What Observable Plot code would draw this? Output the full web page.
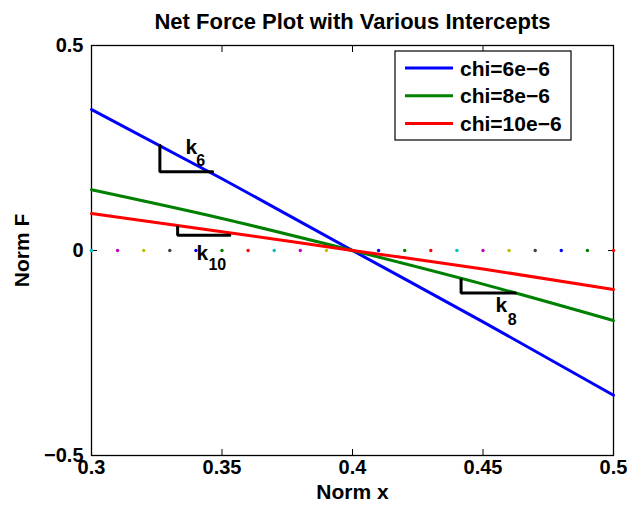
<!DOCTYPE html>
<html><head><meta charset="utf-8">
<script src="https://cdn.jsdelivr.net/npm/d3@7"></script>
<script src="https://cdn.jsdelivr.net/npm/@observablehq/plot@0.6"></script>
<style>body{margin:0;background:#fff}</style>
</head><body><div id="chart"></div>
<script>
// ---- data ----
const titleText = "Net Force Plot with Various Intercepts";
const xLabel = "Norm x";
const yLabel = "Norm F";
const xs = [0.30, 0.35, 0.40, 0.45, 0.50];
const blueY = [0.344, 0.175, 0.0, -0.174, -0.353];
const greenY = [0.148, 0.078, 0.0, -0.082, -0.171];
const redY = [0.090, 0.046, 0.0, -0.045, -0.095];
const seriesNames = ["chi=6e\u22126", "chi=8e\u22126", "chi=10e\u22126"];
const seriesColors = ["#0000ff", "#008000", "#ff0000"];
const dotX = [0.30,0.31,0.32,0.33,0.34,0.35,0.36,0.37,0.38,0.39,0.40,0.41,0.42,0.43,0.44,0.45,0.46,0.47,0.48,0.49,0.50];
const dotY = [0,0,0,0,0,0,0,0,0,0,0,0,0,0,0,0,0,0,0,0,0];
const dotColors = ["#00bfbf","#bf00bf","#bfbf00","#404040","#0000ff","#008000","#ff0000",
                   "#00bfbf","#bf00bf","#bfbf00","#404040","#0000ff","#008000","#ff0000",
                   "#00bfbf","#bf00bf","#bfbf00","#404040","#0000ff","#008000","#ff0000"];
const xTicks = [0.3, 0.35, 0.4, 0.45, 0.5];
const yTicks = [-0.5, 0, 0.5];
// slope triangles (k6, k10, k8)
const triX0 = [0.3262, 0.3330, 0.4416];
const triX1 = [0.3464, 0.3530, 0.4624];
const triYTop = [0.257, 0.0576, -0.0707];
const triYBot = [0.192, 0.0373, -0.1034];
const kX = [0.3383, 0.3425, 0.4570];
const kY = [0.252, -0.006, -0.133];
const subText = ["6", "10", "8"];
const subX = [0.3418, 0.3482, 0.4612];
const subY = [0.218, -0.036, -0.168];

const FONT = "'Liberation Sans', Arial, Helvetica, sans-serif";
const ys = [blueY, greenY, redY];
const fmtX = d => String(+d.toFixed(2));
const fmtY = d => d === 0 ? "0" : (d < 0 ? "\u2212" : "") + String(Math.abs(d));

const triPaths = triX0.map((x0, i) => [
  {x: x0, y: triYTop[i], t: i},
  {x: x0, y: triYBot[i], t: i},
  {x: triX1[i], y: triYBot[i], t: i}
]).flat();

function legend(index, scales, values, dimensions) {
  const {width, marginRight, marginTop} = dimensions;
  const w = 176, h = 89;
  const right = width - marginRight - 42;
  const left = right - w, top = marginTop + 6;
  const g = d3.create("svg:g");
  g.append("rect").attr("x", left).attr("y", top).attr("width", w).attr("height", h)
    .attr("fill", "white").attr("stroke", "black").attr("stroke-width", 1.2);
  seriesNames.forEach((n, i) => {
    const y = top + 17 + i * 27.8;
    g.append("line").attr("x1", left + 10).attr("x2", left + 58).attr("y1", y).attr("y2", y)
      .attr("stroke", seriesColors[i]).attr("stroke-width", 3);
    g.append("text").attr("x", left + 65).attr("y", y).attr("dy", "0.36em")
      .attr("text-anchor", "start")
      .attr("font-size", 21).attr("font-weight", "bold").attr("fill", "black").text(n);
  });
  return g.node();
}

const chart = Plot.plot({
  width: 632,
  height: 512,
  marginLeft: 91,
  marginRight: 19,
  marginTop: 45,
  marginBottom: 57,
  style: {fontFamily: FONT, fontWeight: "bold", fontSize: "20px", background: "white", color: "black"},
  x: {domain: [0.3, 0.5]},
  y: {domain: [-0.5, 0.5]},
  color: {type: "identity"},
  marks: [
    Plot.frame({stroke: "black", strokeWidth: 1.3}),
    Plot.axisX(xTicks, {anchor: "bottom", tickSize: 0, tickPadding: 4, fontSize: 20, tickFormat: fmtX,
      label: null}),
    Plot.axisX(xTicks, {anchor: "bottom", tickSize: -6, tickFormat: () => "", label: null}),
    Plot.axisX(xTicks, {anchor: "top", tickSize: -6, tickFormat: () => "", label: null}),
    Plot.axisY(yTicks, {anchor: "left", tickSize: 0, tickPadding: 8, fontSize: 20,
      tickFormat: fmtY, label: null}),
    Plot.axisY(yTicks, {anchor: "left", tickSize: -6, tickFormat: () => "", label: null}),
    Plot.axisY(yTicks, {anchor: "right", tickSize: -6, tickFormat: () => "", label: null}),
    Plot.dot(dotX, {x: dotX, y: dotY, fill: dotColors, r: 1.7}),
    ...ys.map((yv, i) => Plot.line(xs, {x: xs, y: yv, stroke: seriesColors[i], strokeWidth: 3, curve: "monotone-x"})),
    Plot.line(triPaths, {x: "x", y: "y", z: "t", stroke: "black", strokeWidth: 3, strokeLinejoin: "miter"}),
    Plot.text(kX, {x: kX, y: kY, text: () => "k", fontSize: 21, fontWeight: "bold", fill: "black"}),
    Plot.text(subX, {x: subX, y: subY, text: subText, fontSize: 16, fontWeight: "bold", fill: "black"}),
    Plot.text([titleText], {frameAnchor: "top", dy: -32, fontSize: 22, fontWeight: "bold", fill: "black"}),
    Plot.text([xLabel], {frameAnchor: "bottom", dy: 43, fontSize: 21, fontWeight: "bold", fill: "black"}),
    Plot.text([yLabel], {frameAnchor: "left", textAnchor: "middle", dx: -69, rotate: -90, fontSize: 21, fontWeight: "bold", fill: "black"}),
    legend
  ]
});
document.getElementById("chart").appendChild(chart);
</script>
</body></html>
